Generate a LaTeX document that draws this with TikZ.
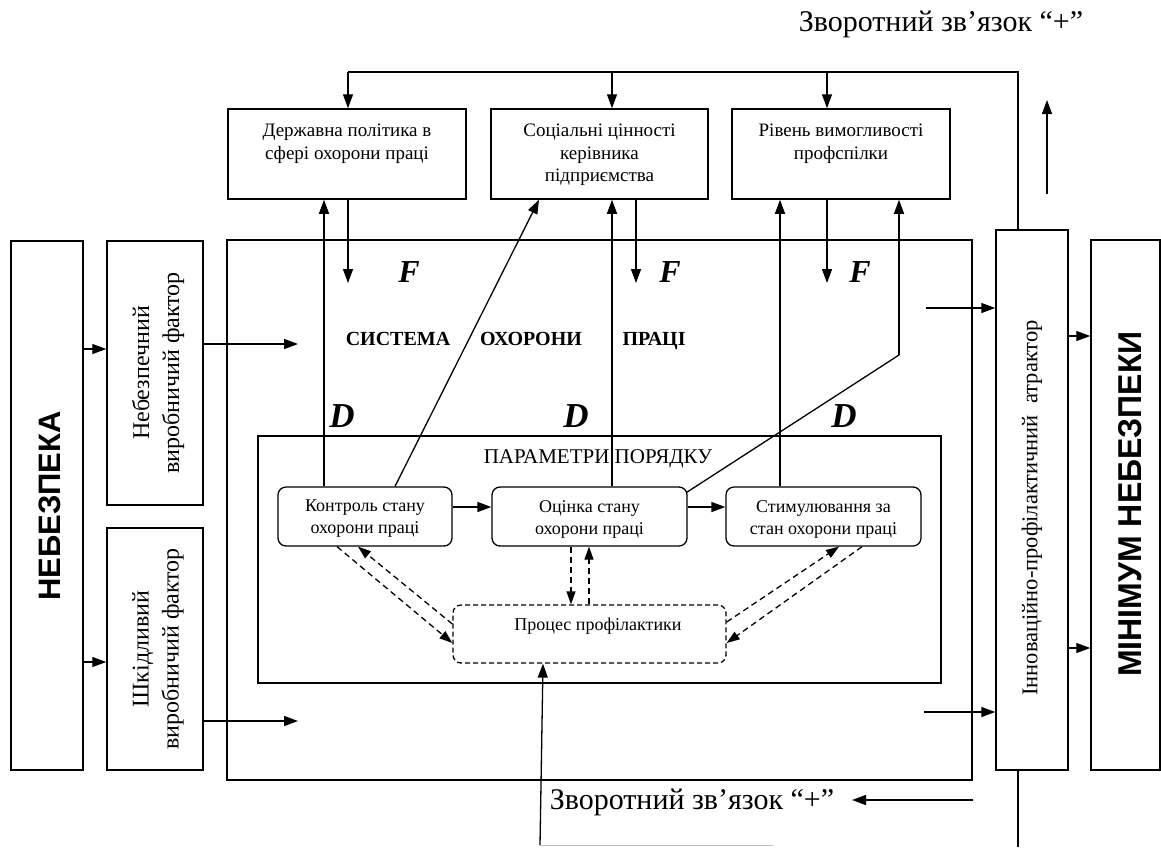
\documentclass[tikz,border=0pt]{standalone}
\usepackage{fontspec}
\setmainfont{Liberation Serif}
\setsansfont{Liberation Sans}
\usetikzlibrary{arrows.meta}
\begin{document}
\begin{tikzpicture}[x=1pt,y=-1pt,
  box/.style={draw, line width=1.5pt, inner sep=0pt},
  rbox/.style={box, line width=1.3pt, rounded corners=8pt},
  ln/.style={line width=1.3pt},
  arr/.style={ln, -{Triangle[length=14pt,width=10pt]}},
  darr/.style={line width=1.3pt, dash pattern=on 6pt off 4pt, -{Triangle[length=13pt,width=9pt]}},
  t18/.style={font=\fontsize{18}{22}\selectfont, align=center, inner sep=0pt},
  t19/.style={font=\fontsize{19}{22.5}\selectfont, align=center, inner sep=0pt},
  t30/.style={font=\fontsize{30}{34}\selectfont, inner sep=0pt},
  fac/.style={font=\fontsize{24}{30}\selectfont, align=center, inner sep=0pt, rotate=90},
  big/.style={font=\sffamily\bfseries\fontsize{31}{31}\selectfont, inner sep=0pt, rotate=90},
  fl/.style={font=\bfseries\itshape\fontsize{32}{32}\selectfont, inner sep=0pt, anchor=base},
  dl/.style={font=\bfseries\itshape\fontsize{35}{35}\selectfont, inner sep=0pt, anchor=base},
  sl/.style={font=\bfseries\fontsize{20}{20}\selectfont, inner sep=0pt, anchor=base}]
\useasboundingbox (0,0) rectangle (1161,847);

% top text
\node[t30] (fbtop) at (941,24) {Зворотний зв’язок “+”};

% top boxes
\node[box, minimum width=238, minimum height=90] (b1) at (347,154) {};
\node[box, minimum width=217, minimum height=90] (b2) at (599.5,154) {};
\node[box, minimum width=218, minimum height=90] (b3) at (841,154) {};
\node[t19, anchor=north] (b1t) at (347,124) {Державна політика в\\сфері охорони праці};
\node[t19, anchor=north] (b2t) at (599.5,124) {Соціальні цінності\\керівника\\підприємства};
\node[t19, anchor=north] (b3t) at (841,124) {Рівень вимогливості\\профспілки};

% left boxes
\node[box, minimum width=72, minimum height=529] (neb) at (47,505.5) {};
\node[big] (nebt) at (50,506) {НЕБЕЗПЕКА};
\node[box, minimum width=96, minimum height=264] (nf) at (155,373) {};
\node[fac] (nft) at (158,373) {Небезпечний\\виробничий фактор};
\node[box, minimum width=96, minimum height=242] (sf) at (155,649) {};
\node[fac] (sft) at (158,649) {Шкідливий\\виробничий фактор};

% system box
\node[box, minimum width=745, minimum height=540] (sys) at (599.5,510) {};
\node[sl] (s1) at (398,345) {СИСТЕМА};
\node[sl] (s2) at (531,345) {ОХОРОНИ};
\node[sl] (s3) at (654,345) {ПРАЦІ};
\node[fl] (F1) at (409,282) {F};
\node[fl] (F2) at (670,282) {F};
\node[fl] (F3) at (860,282) {F};
\node[dl] (D1) at (342,427) {D};
\node[dl] (D2) at (576,427) {D};
\node[dl] (D3) at (844,427) {D};

% parameters box
\node[box, line width=1.3pt, minimum width=683, minimum height=247] (par) at (599.5,559.5) {};
\node[t18, font=\fontsize{21}{22}\selectfont] (part) at (598,459) {ПАРАМЕТРИ ПОРЯДКУ};
\node[rbox, minimum width=174, minimum height=59] (kb) at (365,516.5) {};
\node[rbox, minimum width=195, minimum height=59] (ob) at (589.5,516.5) {};
\node[rbox, minimum width=195, minimum height=59] (sb) at (823.5,516.5) {};
\node[t18] (kbt) at (365,519) {Контроль стану\\охорони праці};
\node[t18] (obt) at (589.5,519) {Оцінка стану\\охорони праці};
\node[t18] (sbt) at (823.5,519) {Стимулювання за\\стан охорони праці};
\node[rbox, dash pattern=on 5pt off 3pt, minimum width=273, minimum height=58] (pb) at (589.5,634) {};
\node[t18] (pbt) at (598,626) {Процес профілактики};

% attractor and minimum
\node[box, minimum width=72, minimum height=540] (att) at (1032,500) {};
\node[inner sep=0pt, rotate=90, font=\fontsize{22.5}{22.5}\selectfont] (attt) at (1032,508) {Інноваційно-профілактичний\ \ атрактор};
\node[box, minimum width=69, minimum height=530] (minb) at (1125.5,505) {};
\node[big, font=\sffamily\bfseries\fontsize{33}{33}\selectfont, xscale=0.97] (mint) at (1130,504) {МІНІМУМ НЕБЕЗПЕКИ};

% bottom text
\node[t30] (fbbot) at (692,802) {Зворотний зв’язок “+”};

% coordinates
\coordinate (fbT) at (1018,72);
\coordinate (a1) at (348,0);
\coordinate (a2) at (612,0);
\coordinate (a3) at (827,0);
\coordinate (upS) at (1047,194);
\coordinate (upE) at (1047,100);
\coordinate (f1) at (348,283);
\coordinate (f2) at (636,283);
\coordinate (f3) at (827,283);
\coordinate (u1) at (324,0);
\coordinate (u2) at (612,0);
\coordinate (u3) at (780,0);
\coordinate (dg1) at (395,0);
\coordinate (dg1e) at (539,0);
\coordinate (kn) at (899,355);
\coordinate (y349) at (0,349);
\coordinate (y662) at (0,662);
\coordinate (s1e) at (298,344);
\coordinate (s2e) at (298,721);
\coordinate (ia1) at (926,308);
\coordinate (ia2) at (924,712);
\coordinate (m1) at (0,336);
\coordinate (m2) at (0,648);
\coordinate (botE) at (1018,847);
\coordinate (fb2s) at (973,800);
\coordinate (fb2e) at (852,800);
\coordinate (pu) at (540,845);
\coordinate (pux) at (543,0);
\coordinate (gl) at (773,845);
\coordinate (h1) at (0,507);
\coordinate (da1) at (337,0);
\coordinate (dy643) at (0,643);
\coordinate (dy624) at (0,624);
\coordinate (dy622) at (0,622);
\coordinate (db1) at (358,0);
\coordinate (dc1) at (571,0);
\coordinate (dd1) at (589,0);
\coordinate (de1) at (862,0);
\coordinate (df1) at (839,0);

% top feedback loop
\draw[ln] (att.north -| fbT) -- (fbT) -- (fbT -| a1);
\draw[arr] (fbT -| a1) -- (b1.north -| a1);
\draw[arr] (fbT -| a2) -- (b2.north -| a2);
\draw[arr] (fbT -| a3) -- (b3.north -| a3);
\draw[arr] (upS) -- (upE);

% F arrows
\draw[arr] (b1.south -| f1) -- (f1);
\draw[arr] (b2.south -| f2) -- (f2);
\draw[arr] (b3.south -| f3) -- (f3);

% D arrows (up)
\draw[arr] (kb.north -| u1) -- (b1.south -| u1);
\draw[arr] (ob.north -| u2) -- (b2.south -| u2);
\draw[arr] (sb.north -| u3) -- (b3.south -| u3);
\draw[arr] (kb.north -| dg1) -- (b2.south -| dg1e);
\draw[ln] ([xshift=-1pt,yshift=-6pt]ob.north east) -- (kn);
\draw[arr] (kn) -- (b3.south -| kn);

% left arrows
\draw[arr] (neb.east |- y349) -- (nf.west |- y349);
\draw[arr] (neb.east |- y662) -- (sf.west |- y662);
\draw[arr] (nf.east |- s1e) -- (s1e);
\draw[arr] (sf.east |- s2e) -- (s2e);

% right arrows
\draw[arr] (ia1) -- (att.west |- ia1);
\draw[arr] (ia2) -- (att.west |- ia2);
\draw[arr] (att.east |- m1) -- (minb.west |- m1);
\draw[arr] (att.east |- m2) -- (minb.west |- m2);
\draw[ln] (att.south -| botE) -- (botE);
\draw[arr] (fb2s) -- (fb2e);

% bottom
\draw[arr] (pu) -- (pb.south -| pux);
\draw[gray!50, line width=0.8pt] (pu) -- (gl);

% inner arrows
\draw[arr] (kb.east |- h1) -- (ob.west |- h1);
\draw[arr] (ob.east |- h1) -- (sb.west |- h1);

% dashed arrows
\draw[darr] (kb.south -| da1) -- (pb.west |- dy643);
\draw[darr] (pb.west |- dy624) -- (kb.south -| db1);
\draw[darr] (ob.south -| dc1) -- (pb.north -| dc1);
\draw[darr] (pb.north -| dd1) -- (ob.south -| dd1);
\draw[darr] (sb.south -| de1) -- (pb.east |- dy643);
\draw[darr] (pb.east |- dy622) -- (sb.south -| df1);
\end{tikzpicture}
\end{document}
